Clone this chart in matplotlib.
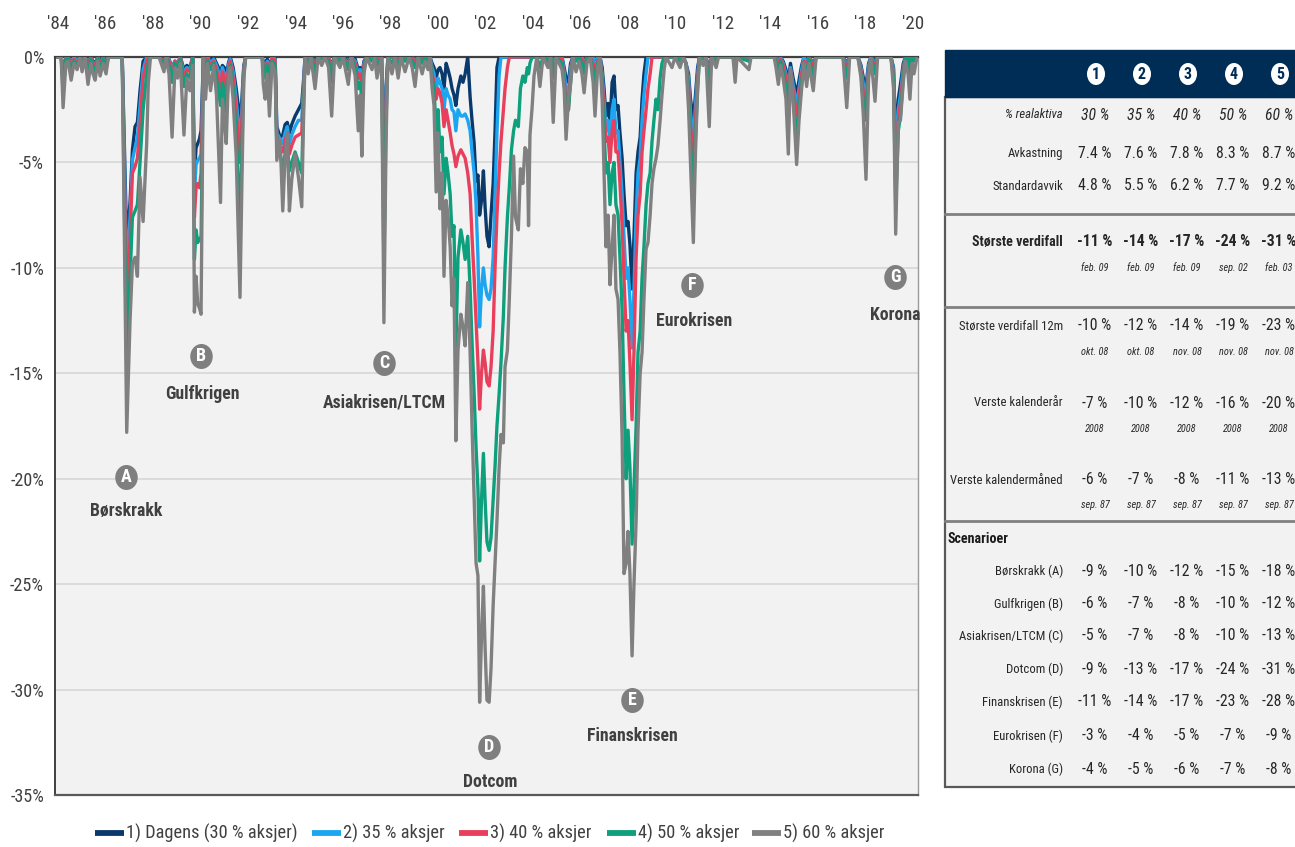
import os
import matplotlib
matplotlib.use("Agg")
import matplotlib.pyplot as plt
from matplotlib import font_manager
from matplotlib.font_manager import FontProperties
from matplotlib.patches import Rectangle, Ellipse
from matplotlib.lines import Line2D
from matplotlib.path import Path
from matplotlib.transforms import Affine2D
from matplotlib.markers import MarkerStyle

# ------------------------------------------------------------------
# Drawdown (% below previous peak) per portfolio, by date
# ------------------------------------------------------------------
years = [
    1984.00, 1984.13, 1984.21, 1984.33, 1984.42, 1984.55, 1984.67, 1984.80, 1984.92, 1985.01, 1985.13,
    1985.26, 1985.38, 1985.47, 1985.56, 1985.67, 1985.77, 1985.90, 1986.02, 1986.12, 1986.70,
    1986.89, 1987.03, 1987.13, 1987.24, 1987.34, 1987.45, 1987.58, 1987.73, 1987.80, 1987.89,
    1988.25, 1988.46, 1988.55, 1988.67, 1988.80, 1988.92, 1989.03, 1989.15, 1989.30, 1989.42, 1989.55, 1989.67,
    1989.74, 1989.81, 1989.88, 1989.95, 1990.02, 1990.12,
    1990.21, 1990.30, 1990.42, 1990.55, 1990.67, 1990.84, 1990.92, 1991.00, 1991.08, 1991.17, 1991.25,
    1991.37, 1991.50, 1991.66, 1991.74, 1991.82, 1991.90,
    1992.59, 1992.64, 1992.72, 1992.81, 1992.90, 1993.01, 1993.14, 1993.21, 1993.35, 1993.46, 1993.56,
    1993.65, 1993.74, 1993.84, 1993.98, 1994.12, 1994.26, 1994.33, 1994.40,
    1994.53, 1994.65, 1994.82, 1994.95, 1995.10, 1995.24, 1995.39, 1995.52, 1995.64, 1995.87, 1996.00,
    1996.22, 1996.34, 1996.51, 1996.64, 1996.72, 1996.79, 1996.88, 1996.99, 1997.22, 1997.33, 1997.43, 1997.62,
    1997.72, 1997.81, 1997.89, 1998.06, 1998.19, 1998.32, 1998.44, 1998.61, 1998.78, 1998.91, 1999.03,
    1999.16, 1999.33, 1999.45, 1999.58, 1999.66,
    1999.75, 1999.83, 1999.92, 2000.00, 2000.08, 2000.17, 2000.25, 2000.34, 2000.42, 2000.51,
    2000.59, 2000.67, 2000.75, 2000.84, 2000.96, 2001.05, 2001.14, 2001.25, 2001.35, 2001.43,
    2001.52, 2001.60, 2001.68, 2001.75, 2001.83, 2001.91, 2001.98, 2002.06, 2002.15, 2002.23,
    2002.32, 2002.40, 2002.48, 2002.57, 2002.65, 2002.75, 2002.82, 2002.92,
    2003.00, 2003.09, 2003.18, 2003.26, 2003.38, 2003.47, 2003.57, 2003.66, 2003.76, 2003.81, 2003.87,
    2003.96, 2004.04, 2004.16,
    2004.29, 2004.42, 2004.63, 2004.74, 2004.85, 2004.97, 2005.22, 2005.31, 2005.39, 2005.49,
    2005.58, 2005.68, 2005.81, 2005.94, 2006.06, 2006.15, 2006.27, 2006.40, 2006.53, 2006.61, 2006.72,
    2006.82, 2006.91, 2006.99, 2007.07, 2007.16, 2007.24, 2007.33, 2007.41, 2007.49, 2007.58,
    2007.66, 2007.75, 2007.83, 2007.92, 2008.00, 2008.08, 2008.17, 2008.25, 2008.34, 2008.42,
    2008.51, 2008.59, 2008.67, 2008.76, 2008.84, 2008.93, 2009.01, 2009.09, 2009.18, 2009.26,
    2009.35, 2009.43, 2009.52, 2009.60,
    2009.85, 2009.98, 2010.19, 2010.32, 2010.44, 2010.55, 2010.63, 2010.75, 2010.84, 2010.93,
    2011.01, 2011.16, 2011.28, 2011.42, 2011.52, 2011.71, 2011.81, 2012.42, 2012.51, 2012.59, 2013.09, 2013.18,
    2014.15, 2014.23, 2014.33, 2014.42, 2014.53, 2014.65, 2014.75, 2014.84, 2014.95, 2015.10,
    2015.20, 2015.31, 2015.41, 2015.52, 2015.62, 2015.80, 2015.92,
    2017.05, 2017.21, 2017.33, 2017.68, 2017.81, 2017.91, 2018.02, 2018.13, 2018.23, 2018.40,
    2018.51, 2019.07, 2019.18, 2019.27, 2019.38, 2019.47, 2019.59, 2019.68, 2019.79, 2019.87,
    2019.96, 2020.04, 2020.17,
]

dagens_30 = [
    0, 0, -0.7, 0, 0, -0.3, 0, -0.2, 0, -0.2, 0,
    -0.3, 0, -0.2, -0.3, 0, -0.2, 0, -0.2, 0, 0,
    -8.8, -6.9, -4.4, -3.3, -3.1, -1.6, -0.2, 0, 0, 0,
    0, -0.2, 0, -0.1, -0.5, -0.2, -0.3, 0, -0.6, -0.4, -0.5, 0,
    -5.6, -4.3, -4.1, -3.9, -3.5, 0,
    -0.2, 0, -0.2, 0, -0.3, -0.7, -0.4, -0.5, -0.9, -0.3, 0,
    -0.5, -1.5, -3.0, -2.0, -0.4, 0,
    0, -0.2, -0.3, -0.1, -0.5, 0, 0, -3.3, -3.8, -3.7, -3.2,
    -3.1, -3.6, -3.2, -2.8, -2.5, -2.2, -1.2, 0,
    0, 0, -0.2, 0, 0, 0, 0, -0.4, 0, 0, 0,
    -0.2, 0, -0.1, -0.6, -0.5, -0.9, -0.2, 0, 0, 0, 0, 0,
    -5.0, -1.4, 0, 0, 0, 0, 0, 0, 0, 0, -0.1,
    0, 0, 0, 0, 0,
    -0.3, -0.5, -1.0, -0.6, -0.5, -0.8, -1.5, -0.3, -0.6, -1.0,
    -1.5, -1.8, -2.3, -1.5, -0.9, -1.2, -0.8, 0, -1.9, -3.0,
    -4.1, -5.9, -5.6, -7.5, -6.8, -5.4, -7.1, -8.5, -9.0, -7.5,
    -6.0, -3.5, -0.5, 0, 0, 0, 0, 0,
    0, 0, 0, 0, 0, 0, 0, 0, 0, 0, 0,
    0, 0, 0,
    0, 0, 0, 0, -0.3, 0, 0, -0.5, -1.0, -1.2,
    -0.3, 0, 0, 0, 0, -0.3, 0, 0, 0, -0.6, 0,
    0, -0.5, -1.5, -2.8, -2.2, -3.2, -1.2, -0.9, -2.5, -2.3,
    -3.6, -4.8, -6.5, -8.0, -7.8, -8.9, -11.0, -8.5, -5.5, -4.5,
    -3.8, -2.0, -0.8, 0, 0, 0, 0, 0, 0, 0,
    0, 0, 0, 0,
    0, 0, 0, 0, -0.3, -0.8, -2.0, -3.0, -1.8, -0.5,
    0, 0, 0, -0.6, 0, 0, 0, 0, 0, 0, 0, 0,
    0, 0, -0.2, 0, -0.2, -0.6, -1.2, -0.3, -1.0, -1.8,
    -1.1, -0.4, 0, -0.2, 0, -0.3, 0,
    0, -0.3, 0, 0, -0.4, -1.0, -1.4, -0.3, 0, -0.2,
    0, 0, -0.5, -4.0, -2.0, -1.3, -0.3, 0, 0, -0.2,
    0, 0, 0,
]

aksjer_35 = [
    0, 0, -0.9, 0, 0, -0.4, 0, -0.2, 0, -0.2, 0,
    -0.4, 0, -0.3, -0.4, 0, -0.3, 0, -0.3, 0, 0,
    -10.2, -7.6, -4.9, -4.3, -3.8, -2.3, -0.6, 0, 0, 0,
    0, -0.2, 0, -0.1, -0.6, -0.2, -0.3, 0, -0.8, -0.5, -0.6, 0,
    -6.6, -5.1, -4.9, -4.8, -4.6, 0,
    -0.3, 0, -0.3, -0.1, -0.4, -1.0, -0.5, -0.8, -1.2, -0.4, -0.1,
    -0.7, -2.0, -4.0, -2.5, -0.5, 0,
    0, -0.3, -0.5, -0.2, -0.7, 0, -0.1, -3.6, -3.9, -4.1, -3.6,
    -3.3, -4.1, -3.7, -3.3, -3.0, -3.0, -1.5, 0,
    0, 0, -0.3, 0, 0, 0, 0, -0.5, 0, 0, 0,
    -0.3, 0, -0.2, -0.8, -0.6, -1.1, -0.3, 0, 0, 0, 0, 0,
    -6.7, -1.8, 0, 0, 0, 0, 0, 0, 0, 0, -0.2,
    0, 0, 0, 0, 0,
    -0.5, -0.8, -1.6, -1.0, -1.2, -1.5, -2.5, -1.5, -1.8, -2.0,
    -2.5, -2.6, -3.5, -2.5, -2.8, -2.8, -2.7, -3.0, -3.5, -4.5,
    -5.5, -7.0, -9.5, -12.8, -11.0, -10.0, -10.8, -11.3, -11.5, -11.0,
    -9.5, -6.5, -3.6, -0.9, 0, 0, 0, 0,
    0, 0, 0, 0, 0, 0, 0, 0, 0, 0, 0,
    0, 0, 0,
    0, 0, 0, 0, -0.4, 0, 0, -0.7, -1.5, -1.8,
    -0.5, 0, 0, 0, 0, -0.4, 0, 0, 0, -0.8, 0,
    0, -0.8, -2.0, -3.5, -3.0, -4.2, -2.5, -2.0, -3.6, -3.5,
    -5.0, -6.5, -8.5, -10.5, -10.0, -11.5, -13.8, -11.0, -7.5, -5.5,
    -4.8, -3.0, -1.8, -0.8, 0, 0, 0, 0, 0, 0,
    0, 0, 0, 0,
    0, 0, 0, 0, -0.3, -1.0, -2.6, -4.0, -2.3, -0.8,
    0, 0, 0, -0.8, 0, 0, 0, 0, 0, 0, 0, 0,
    0, 0, -0.3, 0, -0.3, -0.8, -1.6, -0.5, -1.3, -2.3,
    -1.5, -0.6, 0, -0.3, 0, -0.4, 0,
    0, -0.4, 0, 0, -0.5, -1.3, -1.8, -0.4, 0, -0.3,
    0, 0, -0.6, -5.0, -2.5, -1.8, -0.5, 0, 0, -0.3,
    0, 0, 0,
]

aksjer_40 = [
    0, 0, -1.1, 0, 0, -0.5, -0.1, -0.3, 0, -0.3, 0,
    -0.5, 0, -0.3, -0.5, 0, -0.4, 0, -0.3, 0, 0,
    -11.8, -8.6, -5.5, -5.2, -4.8, -3.2, -1.0, -0.2, 0, 0,
    0, -0.2, 0, -0.2, -0.8, -0.2, -0.4, 0, -1.0, -0.6, -0.7, 0,
    -7.6, -6.2, -6.0, -6.2, -5.5, 0,
    -0.5, -0.1, -0.4, -0.2, -0.6, -1.5, -0.7, -1.0, -1.6, -0.6, -0.2,
    -1.0, -2.5, -5.0, -3.0, -0.6, 0,
    0, -0.4, -0.6, -0.3, -0.9, 0, -0.2, -3.9, -4.2, -4.5, -4.0,
    -3.6, -4.6, -4.2, -3.8, -3.7, -3.6, -1.8, 0,
    0, 0, -0.4, 0, 0, 0, 0, -0.7, 0, 0, 0,
    -0.4, 0, -0.3, -1.0, -0.8, -1.4, -0.4, 0, 0, 0, -0.1, 0,
    -7.8, -2.2, 0, 0, 0, -0.1, 0, 0, 0, 0, -0.3,
    0, -0.1, 0, -0.1, 0,
    -0.8, -1.2, -2.0, -1.5, -1.7, -2.2, -3.3, -2.5, -3.0, -3.6,
    -4.2, -4.6, -5.2, -4.7, -4.4, -4.6, -4.8, -5.5, -6.5, -8.5,
    -10.5, -12.5, -14.5, -16.7, -15.0, -13.9, -14.5, -15.4, -15.6, -14.7,
    -13.0, -10.0, -7.5, -5.5, -4.0, -2.5, -1.5, -0.5,
    0, 0, 0, 0, 0, 0, 0, 0, 0, 0, 0,
    0, 0, 0,
    0, 0, 0, 0, -0.6, 0, -0.1, -1.0, -2.2, -2.5,
    -0.8, 0, 0, 0, -0.1, -0.5, 0, 0, -0.3, -1.0, -0.2,
    0, -1.0, -2.5, -4.0, -3.8, -5.0, -3.5, -3.0, -4.5, -4.5,
    -6.0, -8.0, -10.5, -13.0, -12.5, -14.5, -17.2, -14.0, -9.5, -7.5,
    -6.5, -4.5, -3.5, -2.5, -1.5, -0.8, 0, 0, 0, 0,
    0, 0, 0, 0,
    0, 0, 0, 0, -0.3, -1.3, -3.2, -5.0, -3.0, -1.0,
    0, 0, 0, -1.0, 0, 0, 0, 0, -0.3, 0, 0, 0,
    0, 0, -0.4, -0.1, -0.4, -1.0, -2.0, -0.6, -1.6, -2.8,
    -1.9, -0.8, -0.2, -0.5, 0, -0.5, 0,
    0, -0.6, 0, 0, -0.6, -1.7, -2.2, -0.6, 0, -0.5,
    0, 0, -0.8, -6.0, -3.0, -2.2, -0.7, 0, 0, -0.5,
    0, 0, 0,
]

aksjer_50 = [
    0, 0, -1.6, -0.1, -0.1, -0.7, -0.2, -0.4, 0, -0.4, 0,
    -0.8, -0.1, -0.5, -0.7, -0.1, -0.6, -0.1, -0.5, 0, 0,
    -14.8, -10.5, -7.6, -7.3, -7.0, -5.0, -2.5, -0.8, -0.3, 0,
    0, -0.3, 0, -0.4, -1.2, -0.3, -0.5, -0.1, -1.4, -0.8, -1.0, -0.1,
    -9.6, -8.2, -8.8, -8.6, -8.7, 0,
    -0.8, -0.2, -0.6, -0.3, -1.0, -2.3, -1.2, -1.8, -2.6, -1.0, -0.4,
    -1.5, -3.5, -8.0, -4.5, -0.8, 0,
    0, -0.6, -1.0, -0.4, -1.4, -0.2, -0.4, -4.3, -4.6, -5.3, -4.6,
    -4.2, -5.4, -5.0, -4.5, -5.0, -5.5, -2.5, 0,
    -0.3, 0, -0.7, 0, -0.1, 0, -0.2, -1.2, 0, -0.2, 0,
    -0.6, 0, -0.5, -1.5, -1.2, -2.0, -0.6, 0, -0.2, 0, -0.4, 0,
    -10.0, -3.0, 0, -0.3, 0, -0.4, 0, -0.2, 0, -0.2, -0.5,
    0, -0.3, 0, -0.2, 0,
    -1.0, -1.5, -3.5, -2.5, -4.5, -3.8, -6.5, -4.8, -5.5, -6.5,
    -8.5, -8.0, -13.9, -9.5, -8.2, -8.8, -9.6, -8.5, -11.0, -13.5,
    -16.0, -18.5, -20.5, -23.9, -21.0, -18.8, -21.0, -23.0, -23.4, -22.8,
    -21.0, -19.4, -17.5, -16.0, -14.5, -12.3, -10.0, -7.6,
    -6.2, -4.4, -3.5, -3.0, -3.3, -1.5, -0.9, -1.2, -0.5, -0.8, -0.3,
    0, 0, 0,
    -0.5, 0, -0.2, 0, -1.0, 0, -0.3, -1.2, -2.7, -2.5,
    -1.2, 0, -0.2, 0, -0.3, -0.8, -0.1, 0, -0.6, -1.5, -0.3,
    0, -1.5, -3.5, -5.5, -5.0, -7.0, -5.5, -5.0, -7.0, -7.5,
    -9.5, -12.0, -16.0, -20.0, -17.7, -19.5, -23.1, -20.5, -17.5, -14.0,
    -13.0, -10.5, -9.0, -7.0, -6.0, -5.5, -4.0, -3.0, -2.0, -2.5,
    -1.0, -0.3, 0, 0,
    0, 0, -0.2, 0, -0.3, -1.8, -4.0, -6.8, -3.8, -1.5,
    0, -0.1, 0, -1.5, 0, -0.2, 0, 0, -0.5, 0, -0.2, 0,
    0, -0.2, -0.7, -0.2, -0.7, -1.5, -2.8, -0.8, -2.0, -3.8,
    -2.5, -1.2, -0.3, -0.8, -0.1, -0.9, 0,
    0, -1.0, 0, 0, -0.8, -2.2, -3.0, -0.8, 0, -0.8,
    0, 0, -1.0, -7.0, -3.5, -2.8, -1.0, 0, 0, -0.8,
    0, -0.2, 0,
]

aksjer_60 = [
    0, 0, -2.4, -0.3, -0.2, -1.1, -0.3, -0.6, 0, -0.7, 0,
    -1.3, -0.3, -0.8, -1.1, -0.2, -0.9, -0.3, -0.8, 0, 0,
    -17.8, -12.5, -9.8, -9.5, -10.4, -5.7, -7.8, -4.1, -1.2, 0,
    0, -0.7, 0, -0.8, -3.8, -0.5, -1.0, -0.3, -3.7, -1.0, -1.6, -0.4,
    -12.1, -10.4, -11.7, -11.9, -12.2, 0,
    -2.0, -0.3, -1.6, -0.4, -1.8, -6.9, -2.0, -3.0, -4.1, -1.0, -0.5,
    -2.0, -4.7, -11.4, -6.0, -1.0, 0,
    0, -1.3, -2.0, -0.8, -2.8, -0.3, -0.7, -4.9, -3.9, -7.3, -4.7,
    -3.6, -7.3, -5.8, -4.6, -5.7, -7.1, -3.2, 0,
    -0.8, 0, -1.5, 0, -0.4, 0, -0.5, -2.8, 0, -0.5, 0,
    -1.3, 0, -0.9, -3.5, -1.8, -4.7, -0.8, 0, -0.6, 0, -1.0, 0,
    -12.6, -4.0, 0, -0.8, 0, -1.0, 0, -0.7, 0, -0.5, -1.4,
    0, -0.8, -0.2, -0.6, 0,
    -1.5, -2.3, -6.4, -3.6, -7.2, -5.5, -10.4, -6.8, -7.5, -9.0,
    -11.8, -10.5, -18.2, -13.9, -12.2, -12.8, -13.7, -10.7, -14.0, -17.5,
    -21.0, -24.0, -24.6, -30.6, -27.5, -25.1, -28.0, -30.5, -30.6, -29.0,
    -26.0, -24.0, -22.0, -19.5, -17.9, -18.3, -14.7, -13.9,
    -11.5, -8.5, -4.7, -7.6, -8.2, -5.3, -6.0, -4.3, -4.5, -8.0, -3.7,
    -2.4, -0.9, 0,
    -1.4, 0, -0.5, 0, -3.1, 0, -0.6, -1.5, -3.9, -2.0,
    -1.3, 0, -0.7, -0.2, -0.8, -1.7, -0.3, 0, -1.2, -2.8, -0.5,
    0, -2.0, -5.5, -9.0, -7.5, -10.8, -9.0, -7.5, -11.0, -11.5,
    -14.0, -18.0, -24.5, -24.0, -22.5, -24.5, -28.4, -25.0, -22.0, -17.7,
    -15.0, -14.0, -11.5, -9.1, -8.8, -7.5, -6.0, -5.3, -4.8, -4.2,
    -3.0, -1.8, -0.6, 0,
    -0.5, 0, -0.5, 0, -0.3, -2.5, -5.0, -8.8, -4.5, -1.5,
    0, -0.4, 0, -3.3, 0, -0.5, 0, 0, -1.2, 0, -0.6, 0,
    0, -0.5, -1.3, -0.4, -1.0, -2.0, -4.6, -0.6, -2.0, -5.1,
    -3.0, -1.5, -0.3, -1.4, -0.3, -1.6, 0,
    0, -2.4, 0, 0, -1.0, -2.8, -5.8, -1.0, 0, -2.1,
    0, 0, -1.5, -8.4, -3.1, -3.0, -1.2, -0.2, -0.8, -2.0,
    -0.3, -0.8, 0,
]

series_values = [dagens_30, aksjer_35, aksjer_40, aksjer_50, aksjer_60]
series_labels = ["1) Dagens (30 % aksjer)", "2) 35 % aksjer", "3) 40 % aksjer",
                 "4) 50 % aksjer", "5) 60 % aksjer"]
series_colors = ["#0A3A6C", "#1CA6F0", "#E8405C", "#0E9F7C", "#808080"]

year_ticks = list(range(1984, 2021, 2))
pct_ticks = [0, -5, -10, -15, -20, -25, -30, -35]

# Crisis markers: letter, name, marker position, label position (year, %)
crisis_letters = ["A", "B", "C", "D", "E", "F", "G"]
crisis_names = ["Børskrakk", "Gulfkrigen", "Asiakrisen/LTCM", "Dotcom",
                "Finanskrisen", "Eurokrisen", "Korona"]
crisis_marker_pos = [(1986.86, -19.9), (1990.02, -14.2), (1997.73, -14.5), (2002.15, -32.7),
                     (2008.17, -30.5), (2010.69, -10.8), (2019.24, -10.45)]
crisis_label_pos = [(1986.86, -21.55), (1990.06, -16.0), (1997.73, -16.4), (2002.19, -34.4),
                    (2008.17, -32.2), (2010.77, -12.5), (2019.24, -12.25)]

# Summary table
table_columns = ["1", "2", "3", "4", "5"]
realaktiva = ["30 %", "35 %", "40 %", "50 %", "60 %"]
avkastning = [7.4, 7.6, 7.8, 8.3, 8.7]
standardavvik = [4.8, 5.5, 6.2, 7.7, 9.2]
storste_verdifall = [-11, -14, -17, -24, -31]
storste_verdifall_dato = ["feb. 09", "feb. 09", "feb. 09", "sep. 02", "feb. 03"]
verdifall_12m = [-10, -12, -14, -19, -23]
verdifall_12m_dato = ["okt. 08", "okt. 08", "nov. 08", "nov. 08", "nov. 08"]
verste_ar = [-7, -10, -12, -16, -20]
verste_ar_dato = ["2008", "2008", "2008", "2008", "2008"]
verste_mnd = [-6, -7, -8, -11, -13]
verste_mnd_dato = ["sep. 87", "sep. 87", "sep. 87", "sep. 87", "sep. 87"]
scenario_names = ["Børskrakk (A)", "Gulfkrigen (B)", "Asiakrisen/LTCM (C)", "Dotcom (D)",
                  "Finanskrisen (E)", "Eurokrisen (F)", "Korona (G)"]
scenario_values = [
    [-9, -10, -12, -15, -18],
    [-6, -7, -8, -10, -12],
    [-5, -7, -8, -10, -13],
    [-9, -13, -17, -24, -31],
    [-11, -14, -17, -23, -28],
    [-3, -4, -5, -7, -9],
    [-4, -5, -6, -7, -8],
]

# ------------------------------------------------------------------
# Fonts: prefer a narrow / condensed sans face when one is installed
# ------------------------------------------------------------------
font_files = {os.path.basename(f.fname).lower(): f.fname for f in font_manager.fontManager.ttflist}
font_sets = [
    ("liberationsansnarrow-regular.ttf", "liberationsansnarrow-bold.ttf", "liberationsansnarrow-italic.ttf"),
    ("robotocondensed-regular.ttf", "robotocondensed-bold.ttf", "robotocondensed-italic.ttf"),
    ("notosans-condensed.ttf", "notosans-condensedbold.ttf", "notosans-condenseditalic.ttf"),
    ("opensans-condensedregular.ttf", "opensans-condensedbold.ttf", "opensans-condenseditalic.ttf"),
    ("dejavusanscondensed.ttf", "dejavusanscondensed-bold.ttf", "dejavusanscondensed-oblique.ttf"),
]
chosen = None
for reg, bold, ital in font_sets:
    if reg in font_files:
        chosen = (font_files[reg], font_files.get(bold, font_files[reg]), font_files.get(ital, font_files[reg]))
        break
plt.rcParams["font.family"] = ["Liberation Sans", "DejaVu Sans"]


def fprop(weight="normal", style="normal", size=12):
    if chosen is not None:
        path = chosen[1] if weight == "bold" else (chosen[2] if style == "italic" else chosen[0])
        return FontProperties(fname=path, size=size)
    return FontProperties(family=["Liberation Sans", "DejaVu Sans"], weight=weight, style=style, size=size)


TEXT = "#404040"
W, H = 1295, 847
fig = plt.figure(figsize=(W / 100, H / 100), dpi=100)
fig.patch.set_facecolor("white")
renderer = fig.canvas.get_renderer()


def fit_size(sample, width_px, weight="normal", style="normal", cap=None):
    """Font size (pt) at which `sample` is about width_px pixels wide."""
    t = fig.text(0, 0, sample, fontproperties=fprop(weight, style, 20))
    w = t.get_window_extent(renderer).width
    t.remove()
    s = 20.0 * width_px / w
    return min(s, cap) if cap else s


size_ytick = fit_size("-35%", 34, cap=15)
size_xtick = fit_size("'84", 22, cap=15)
size_crisis = fit_size("Asiakrisen/LTCM", 123, weight="bold", cap=16)
size_legend = fit_size("1) Dagens (30 % aksjer)", 172, cap=15)
size_tlabel = fit_size("Verste kalendermåned", 112, cap=13)
size_tvalue = fit_size("-10 %", 33, cap=13)
size_tsub = fit_size("sep. 87", 29, style="italic", cap=11)
size_tbold = fit_size("Største verdifall", 90, weight="bold", cap=13.5)

# ------------------------------------------------------------------
# Drawdown chart
# ------------------------------------------------------------------
ax = fig.add_axes([55 / W, 1 - 795 / H, 863 / W, 738 / H])
ax.set_facecolor("#F2F2F2")
ax.set_xlim(1983.87, 2020.21)
ax.set_ylim(-35, 0)

for vals, col in zip(series_values, series_colors):
    ax.plot(years, vals, color=col, lw=2.4, solid_joinstyle="round", zorder=3)

ax.set_yticks(pct_ticks)
ax.set_yticklabels([f"{t}%" for t in pct_ticks], fontproperties=fprop(size=size_ytick))
ax.yaxis.grid(True, color="#D9D9D9", lw=1.3)
ax.set_axisbelow(True)
ax.tick_params(axis="y", length=0, pad=8, labelcolor=TEXT)

ax.xaxis.tick_top()
ax.set_xticks(year_ticks)
ax.set_xticklabels([f"'{y % 100:02d}" for y in year_ticks], fontproperties=fprop(size=size_xtick))
ax.tick_params(axis="x", length=0, pad=17, labelcolor=TEXT)

for side, col, lw in [("left", "#404040", 1.4), ("top", "#404040", 1.6),
                      ("bottom", "#595959", 1.6), ("right", "#9A9A9A", 1.0)]:
    ax.spines[side].set_color(col)
    ax.spines[side].set_linewidth(lw)

oval = MarkerStyle(Path.unit_circle().transformed(Affine2D().scale(0.9, 1.0)))
for letter, name, (mx, my), (lx, ly) in zip(crisis_letters, crisis_names,
                                            crisis_marker_pos, crisis_label_pos):
    ax.plot(mx, my, marker=oval, ms=18, color="#7F7F7F", mec="none", zorder=6, clip_on=False)
    ax.text(mx, my, letter, ha="center", va="center", color="white",
            fontproperties=fprop("bold", size=13), zorder=7)
    ax.text(lx, ly, name, ha="center", va="center", color=TEXT,
            fontproperties=fprop("bold", size=size_crisis), zorder=7)

# ------------------------------------------------------------------
# Overlay in pixel coordinates: table and legend
# ------------------------------------------------------------------
ov = fig.add_axes([0, 0, 1, 1])
ov.set_xlim(0, W)
ov.set_ylim(H, 0)
ov.axis("off")

# legend
leg_x = [95, 312, 459, 607, 752]
for x, lab, col in zip(leg_x, series_labels, series_colors):
    ov.add_line(Line2D([x, x + 29], [833, 833], color=col, lw=4.2, solid_capstyle="butt"))
    ov.text(x + 31, 833, lab, ha="left", va="center", color=TEXT,
            fontproperties=fprop(size=size_legend))

# table frame
TL, TR = 945, 1310
ov.add_patch(Rectangle((TL, 97), TR - TL, 690, facecolor="#F2F2F2", edgecolor="#595959", lw=1.6))
ov.add_patch(Rectangle((TL, 50), TR - TL, 47, facecolor="#002D56", edgecolor="#002D56", lw=1))
for ysep in [214, 307, 521]:
    ov.add_line(Line2D([TL, TR], [ysep, ysep], color="#808080", lw=2))

col_x = [1095, 1141, 1187, 1233, 1279]
for cx, c in zip(col_x, table_columns):
    ov.add_patch(Ellipse((cx + 1, 74), 18, 22, facecolor="white", edgecolor="none"))
    ov.text(cx + 1, 74.5, c, ha="center", va="center", color="#002D56",
            fontproperties=fprop("bold", size=11.5))

LAB_X = 1063
TC = "#262626"


def row(y, label, values, bold=False, italic=False):
    weight = "bold" if bold else "normal"
    style = "italic" if italic else "normal"
    lsize = size_tbold if bold else size_tlabel
    ov.text(LAB_X, y, label, ha="right", va="center", color=TC,
            fontproperties=fprop(weight, style, lsize))
    for cx, v in zip(col_x, values):
        ov.text(cx, y, v, ha="center", va="center", color=TC,
                fontproperties=fprop(weight, style, size_tvalue))


def sub_row(y, values):
    for cx, v in zip(col_x, values):
        ov.text(cx, y, v, ha="center", va="center", color=TC,
                fontproperties=fprop(style="italic", size=size_tsub))


row(115, "% realaktiva", realaktiva, italic=True)
row(154, "Avkastning", [f"{v:.1f} %" for v in avkastning])
row(186, "Standardavvik", [f"{v:.1f} %" for v in standardavvik])
row(242, "Største verdifall", [f"{v} %" for v in storste_verdifall], bold=True)
sub_row(268, storste_verdifall_dato)
row(326, "Største verdifall 12m", [f"{v} %" for v in verdifall_12m])
sub_row(352, verdifall_12m_dato)
row(403, "Verste kalenderår", [f"{v} %" for v in verste_ar])
sub_row(429, verste_ar_dato)
row(480, "Verste kalendermåned", [f"{v} %" for v in verste_mnd])
sub_row(505, verste_mnd_dato)

ov.text(948, 539, "Scenarioer", ha="left", va="center", color="#1A1A1A",
        fontproperties=fprop("bold", size=size_tbold))
scen_y = [571, 604, 636, 669, 702, 736, 769]
for y, name, vals in zip(scen_y, scenario_names, scenario_values):
    row(y, name, [f"{v} %" for v in vals])

fig.savefig("out.png", dpi=100, facecolor="white")
